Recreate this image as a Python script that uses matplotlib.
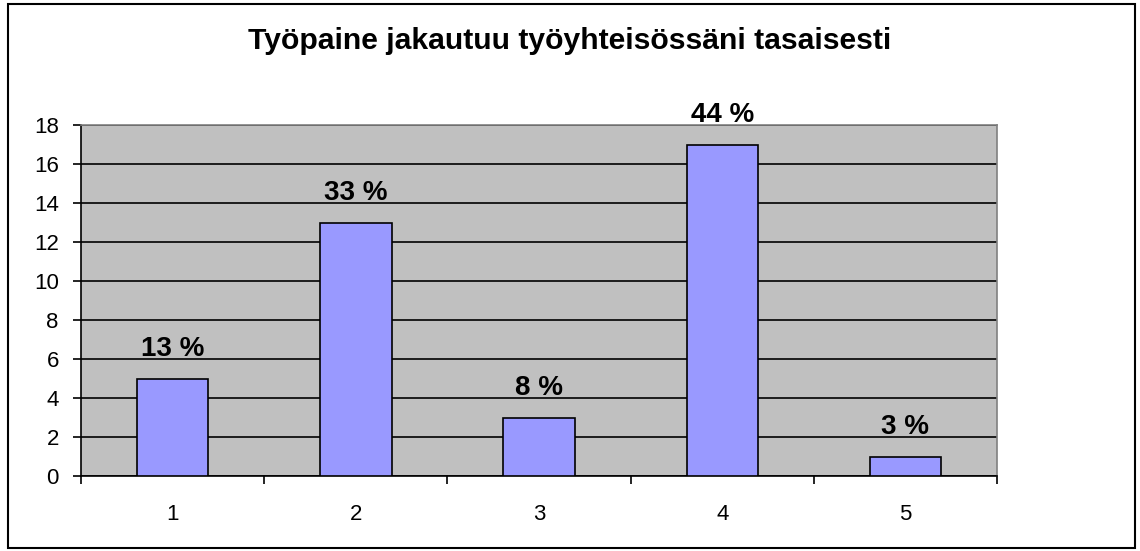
import matplotlib.pyplot as plt
from matplotlib.patches import Rectangle

# Daten
categories = ['1', '2', '3', '4', '5']
counts = [5, 13, 3, 17, 1]
percent_labels = ['13 %', '33 %', '8 %', '44 %', '3 %']
title = 'Työpaine jakautuu työyhteisössäni tasaisesti'

plt.rcParams['font.family'] = ['Liberation Sans', 'DejaVu Sans']

fig = plt.figure(figsize=(11.4, 5.51), dpi=100)
ax = fig.add_axes([0.0711, 0.1361, 0.8035, 0.637])
ax.set_facecolor('#C0C0C0')

x = list(range(len(categories)))
ax.bar(x, counts, width=0.39, color='#9999FF', edgecolor='black', linewidth=1.2, zorder=3)

# Prozentbeschriftungen
for xi, c, lab in zip(x, counts, percent_labels):
    ax.annotate(lab, (xi, c), xytext=(0, 16), textcoords='offset points',
                ha='center', va='baseline', fontsize=20, fontweight='bold')

ax.set_xlim(-0.5, 4.5)
ax.set_ylim(0, 18)
ax.set_yticks(range(0, 19, 2))
ax.yaxis.grid(True, color='black', linewidth=1.2, zorder=0)
ax.set_axisbelow(True)

ax.set_xticks(x)
ax.set_xticklabels(categories, fontsize=16)
ax.set_xticks([i - 0.5 for i in range(6)], minor=True)
ax.tick_params(axis='x', which='major', length=0, pad=20)
ax.tick_params(axis='x', which='minor', length=6, width=1.2, direction='out')
ax.tick_params(axis='y', length=6, width=1.2, direction='out', labelsize=16, pad=10)

for s in ['left', 'bottom']:
    ax.spines[s].set_color('black')
    ax.spines[s].set_linewidth(1.2)
for s in ['top', 'right']:
    ax.spines[s].set_color('#808080')
    ax.spines[s].set_linewidth(1.2)

fig.text(0.5, 0.925, title, ha='center', va='center', fontsize=21.7, fontweight='bold')

# Rahmen um die ganze Grafik
fig.patches.append(Rectangle((0.007, 0.005), 0.989, 0.988, transform=fig.transFigure,
                             fill=False, edgecolor='black', linewidth=1.5))

fig.savefig('out.png', dpi=100)
